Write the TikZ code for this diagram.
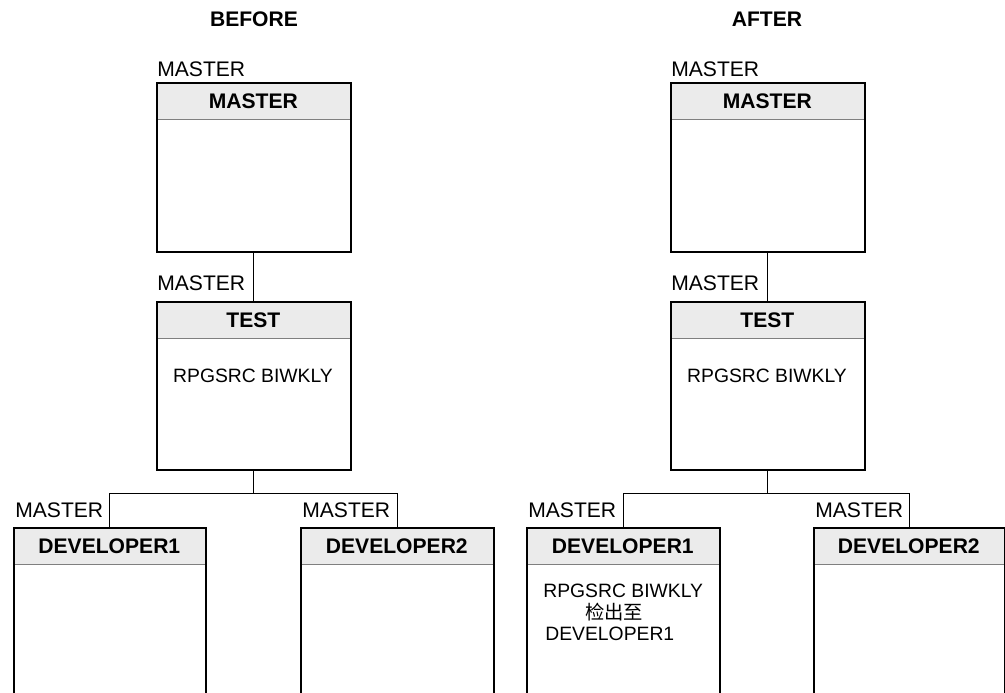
\documentclass[tikz,border=0pt]{standalone}
\usepackage{fontspec}
\setmainfont{Liberation Sans}
\newfontfamily\cjk{Noto Sans CJK SC}
\usetikzlibrary{positioning}
\definecolor{hdrgray}{HTML}{EBEBEB}
\definecolor{sepgray}{HTML}{7F7F7F}

\begin{document}
\begin{tikzpicture}[x=0.02cm, y=-0.02cm,
    every node/.style={font=\fontsize{12}{14}\selectfont},
    frame/.style={draw, line width=1.1pt, minimum width=3.88cm, anchor=north west, inner sep=0pt},
    head/.style={fill=hdrgray, minimum width=3.88cm, minimum height=0.74cm, anchor=north west, inner sep=0pt, font=\fontsize{12}{14}\selectfont\bfseries},
    sep/.style={draw=sepgray, line width=0.6pt},
    lbl/.style={anchor=base west, inner sep=0pt},
    body/.style={inner sep=0pt, font=\fontsize{11}{13}\selectfont},
    ttl/.style={anchor=base, inner sep=0pt, font=\fontsize{12}{14}\selectfont\bfseries},
    link/.style={line width=0.6pt}]
    \useasboundingbox (0,0) rectangle (1005,693);

    % titles
    \node[ttl] (bTitle) at (254,27) {BEFORE};
    \node[ttl] (aTitle) at (767,27) {AFTER};

    % ---- BEFORE ----
    \node[head] (bmH) at (156,82) {MASTER};
    \draw[sep] (bmH.south west) -- (bmH.south east);
    \node[frame, minimum height=3.38cm] (bm) at (156,82) {};
    \node[lbl] (bmL) at ([shift={(1,-6)}]bm.north west) {MASTER};

    \node[head] (btH) at (156,301) {TEST};
    \draw[sep] (btH.south west) -- (btH.south east);
    \node[frame, minimum height=3.36cm] (bt) at (156,301) {};
    \node[lbl] (btL) at ([shift={(1,-11)}]bt.north west) {MASTER};
    \node[body] (btS) at (253,376) {RPGSRC BIWKLY};

    \node[head, minimum width=3.84cm] (bd1H) at (13,527) {DEVELOPER1};
    \draw[sep] (bd1H.south west) -- (bd1H.south east);
    \node[frame, minimum width=3.84cm, minimum height=4cm] (bd1) at (13,527) {};
    \node[lbl] (bd1L) at ([shift={(2,-10)}]bd1.north west) {MASTER};

    \node[head, minimum width=3.86cm] (bd2H) at (300,527) {DEVELOPER2};
    \draw[sep] (bd2H.south west) -- (bd2H.south east);
    \node[frame, minimum width=3.86cm, minimum height=4cm] (bd2) at (300,527) {};
    \node[lbl] (bd2L) at ([shift={(2,-10)}]bd2.north west) {MASTER};

    \draw[link] (bm.south) -- (bt.north);
    \draw[link] (bt.south) -- ++(0,23) coordinate (bFork);
    \draw[link] (bFork) -| (bd1.north);
    \draw[link] (bFork) -| (bd2.north);

    % ---- AFTER ----
    \node[head] (amH) at (670,82) {MASTER};
    \draw[sep] (amH.south west) -- (amH.south east);
    \node[frame, minimum height=3.38cm] (am) at (670,82) {};
    \node[lbl] (amL) at ([shift={(1,-6)}]am.north west) {MASTER};

    \node[head] (atH) at (670,301) {TEST};
    \draw[sep] (atH.south west) -- (atH.south east);
    \node[frame, minimum height=3.36cm] (at) at (670,301) {};
    \node[lbl] (atL) at ([shift={(1,-11)}]at.north west) {MASTER};
    \node[body] (atS) at (767,376) {RPGSRC BIWKLY};

    \node[head, minimum width=3.86cm] (ad1H) at (526,527) {DEVELOPER1};
    \draw[sep] (ad1H.south west) -- (ad1H.south east);
    \node[frame, minimum width=3.86cm, minimum height=4cm] (ad1) at (526,527) {};
    \node[lbl] (ad1L) at ([shift={(2,-10)}]ad1.north west) {MASTER};
    \node[body, anchor=base west] (ad1S) at (543,597) {RPGSRC BIWKLY};
    \node[body, anchor=base] (ad1C) at (614,619) {\cjk 检出至};
    \node[body, anchor=base west] (ad1D) at (545,640) {DEVELOPER1};

    \node[head, minimum width=3.82cm] (ad2H) at (813,527) {DEVELOPER2};
    \draw[sep] (ad2H.south west) -- (ad2H.south east);
    \node[frame, minimum width=3.82cm, minimum height=4cm] (ad2) at (813,527) {};
    \node[lbl] (ad2L) at ([shift={(2,-10)}]ad2.north west) {MASTER};

    \draw[link] (am.south) -- (at.north);
    \draw[link] (at.south) -- ++(0,23) coordinate (aFork);
    \draw[link] (aFork) -| (ad1.north);
    \draw[link] (aFork) -| (ad2.north);
\end{tikzpicture}
\end{document}
